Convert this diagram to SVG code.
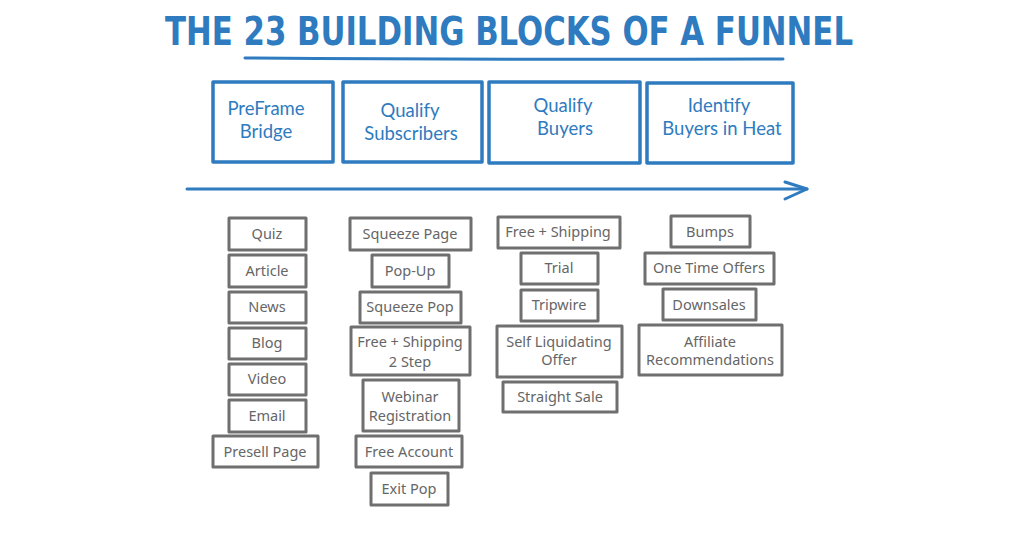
<svg xmlns="http://www.w3.org/2000/svg" width="1024" height="536" viewBox="0 0 1024 536">
<style>
.title{font-family:"DejaVu Sans Condensed","DejaVu Sans","Liberation Sans",sans-serif;font-weight:bold;font-size:39px;fill:#2e7bc0}
.hbox{fill:#fff;stroke:#2e7bc0;stroke-width:3.5;stroke-linejoin:round}
.htxt{font-family:Lato,"Liberation Sans",sans-serif;font-size:18.5px;fill:#2e7bc0;text-anchor:middle}
.gbox{fill:#fff;stroke:#6f6f6f;stroke-width:3;stroke-linejoin:round}
.gtxt{font-family:"Noto Sans","Liberation Sans",sans-serif;font-size:14.5px;fill:#666;text-anchor:middle}
.blue{fill:none;stroke:#2e7bc0;stroke-width:3;stroke-linecap:round;stroke-linejoin:round}
</style>
<rect width="1024" height="536" fill="#fff"/>
<g id="title">
<text class="title" x="165" y="45" textLength="688" lengthAdjust="spacingAndGlyphs">THE 23 BUILDING BLOCKS OF A FUNNEL</text>
<path class="blue" d="M245 58 Q500 60 783 59"/>
</g>
<g id="connectors">
<path class="blue" d="M187 189 L807 189"/>
<path class="blue" d="M785 182 L807 189 L785 199"/>
</g>
<g id="h-preframe"><rect class="hbox" x="213" y="82" width="120" height="80"/><text class="htxt" x="266" y="115">PreFrame</text><text class="htxt" x="266" y="138">Bridge</text></g>
<g id="h-subscribers"><rect class="hbox" x="343" y="82" width="139" height="80"/><text class="htxt" x="410" y="117">Qualify</text><text class="htxt" x="411" y="140">Subscribers</text></g>
<g id="h-buyers"><rect class="hbox" x="489" y="82" width="151" height="81"/><text class="htxt" x="563" y="112">Qualify</text><text class="htxt" x="565" y="135">Buyers</text></g>
<g id="h-heat"><rect class="hbox" x="647" y="83" width="146" height="80"/><text class="htxt" x="719" y="112">Identify</text><text class="htxt" x="722" y="135">Buyers in Heat</text></g>

<g id="quiz"><rect class="gbox" x="229" y="218" width="77" height="32"/><text class="gtxt" x="267" y="239">Quiz</text></g>
<g id="article"><rect class="gbox" x="229" y="255" width="77" height="32"/><text class="gtxt" x="267" y="276">Article</text></g>
<g id="news"><rect class="gbox" x="229" y="292" width="77" height="31"/><text class="gtxt" x="267" y="312">News</text></g>
<g id="blog"><rect class="gbox" x="229" y="328" width="77" height="31"/><text class="gtxt" x="267" y="348">Blog</text></g>
<g id="video"><rect class="gbox" x="229" y="364" width="77" height="31"/><text class="gtxt" x="267" y="384">Video</text></g>
<g id="email"><rect class="gbox" x="229" y="400" width="77" height="32"/><text class="gtxt" x="267" y="421">Email</text></g>
<g id="presell"><rect class="gbox" x="213" y="436" width="105" height="31"/><text class="gtxt" x="265" y="457">Presell Page</text></g>

<g id="squeeze-page"><rect class="gbox" x="350" y="218" width="121" height="32"/><text class="gtxt" x="410" y="239">Squeeze Page</text></g>
<g id="popup"><rect class="gbox" x="372" y="255" width="77" height="32"/><text class="gtxt" x="410" y="276">Pop-Up</text></g>
<g id="squeeze-pop"><rect class="gbox" x="360" y="292" width="101" height="31"/><text class="gtxt" x="410" y="312">Squeeze Pop</text></g>
<g id="fs-2step"><rect class="gbox" x="351" y="327" width="119" height="48"/><text class="gtxt" x="410" y="347">Free + Shipping</text><text class="gtxt" x="410" y="367">2 Step</text></g>
<g id="webinar"><rect class="gbox" x="363" y="380" width="96" height="51"/><text class="gtxt" x="410" y="402">Webinar</text><text class="gtxt" x="410" y="421">Registration</text></g>
<g id="free-account"><rect class="gbox" x="356" y="436" width="106" height="31"/><text class="gtxt" x="409" y="457">Free Account</text></g>
<g id="exit-pop"><rect class="gbox" x="371" y="473" width="77" height="32"/><text class="gtxt" x="409" y="494">Exit Pop</text></g>

<g id="free-shipping"><rect class="gbox" x="498" y="217" width="122" height="31"/><text class="gtxt" x="558" y="237">Free + Shipping</text></g>
<g id="trial"><rect class="gbox" x="521" y="253" width="77" height="31"/><text class="gtxt" x="559" y="273">Trial</text></g>
<g id="tripwire"><rect class="gbox" x="521" y="290" width="77" height="31"/><text class="gtxt" x="559" y="310">Tripwire</text></g>
<g id="slo"><rect class="gbox" x="497" y="326" width="125" height="51"/><text class="gtxt" x="559" y="347">Self Liquidating</text><text class="gtxt" x="559" y="365">Offer</text></g>
<g id="straight-sale"><rect class="gbox" x="503" y="382" width="114" height="30"/><text class="gtxt" x="560" y="402">Straight Sale</text></g>

<g id="bumps"><rect class="gbox" x="671" y="216" width="79" height="31"/><text class="gtxt" x="710" y="237">Bumps</text></g>
<g id="oto"><rect class="gbox" x="645" y="253" width="129" height="31"/><text class="gtxt" x="709" y="273">One Time Offers</text></g>
<g id="downsales"><rect class="gbox" x="663" y="289" width="93" height="31"/><text class="gtxt" x="709" y="310">Downsales</text></g>
<g id="affiliate"><rect class="gbox" x="639" y="325" width="143" height="50"/><text class="gtxt" x="710" y="347">Affiliate</text><text class="gtxt" x="710" y="365">Recommendations</text></g>
</svg>
